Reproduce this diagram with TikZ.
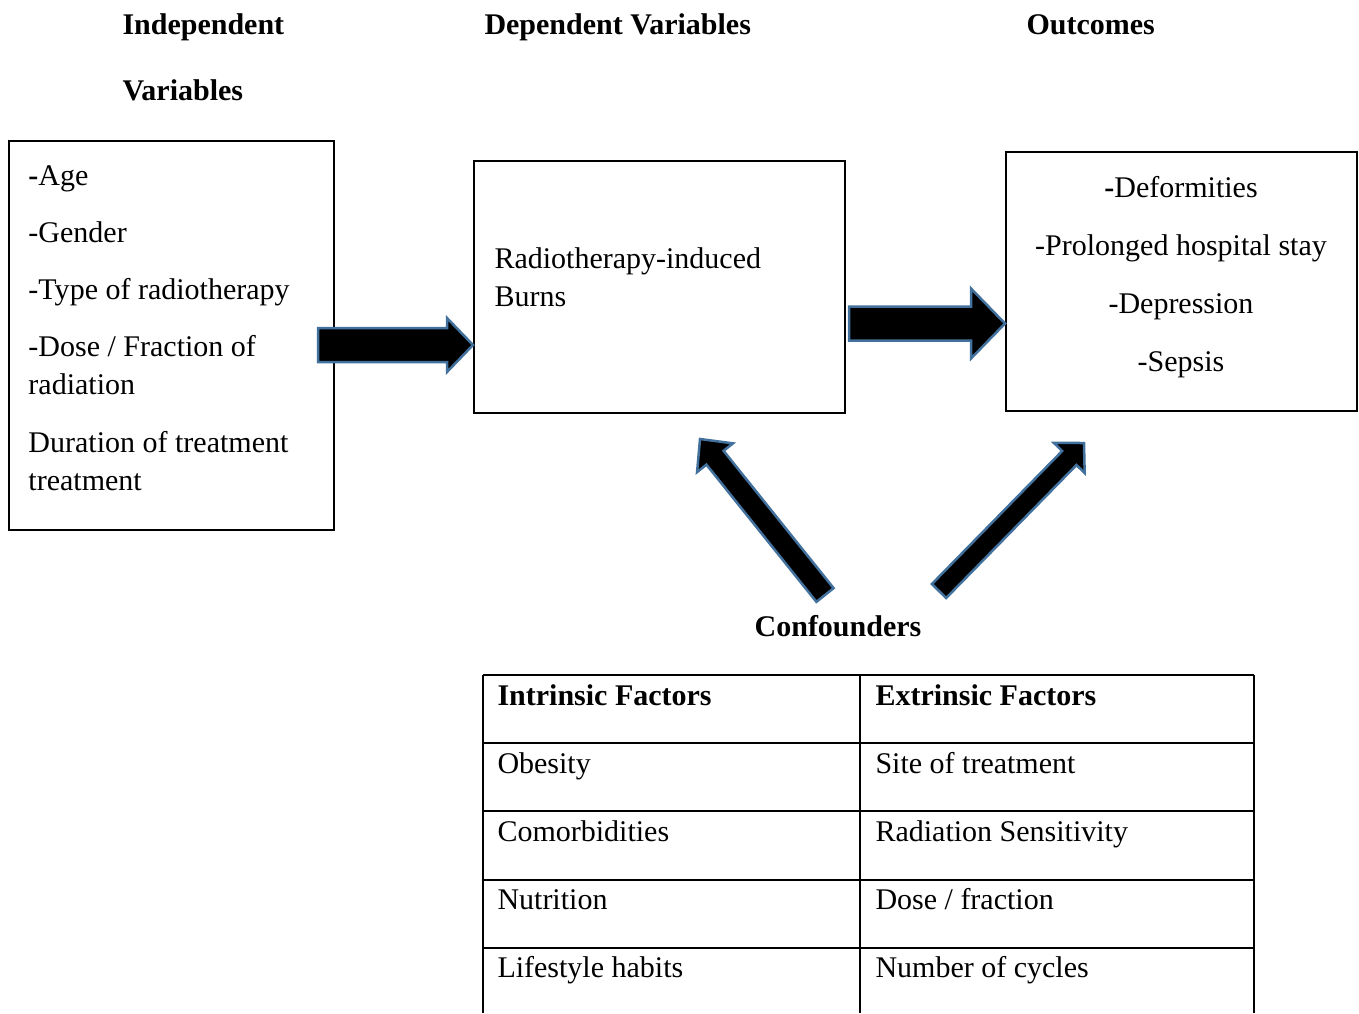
\documentclass[tikz,border=0pt]{standalone}
\usepackage{fontspec}
\setmainfont{Liberation Serif}
\usetikzlibrary{calc,positioning}
\definecolor{arrowblue}{RGB}{65,113,156}
\tikzset{
  box/.style={draw,line width=0.8pt,inner sep=0pt},
  txt/.style={font=\fontsize{12}{15.2}\selectfont,inner sep=0pt},
  head/.style={font=\fontsize{12}{15.2}\selectfont\bfseries,inner sep=0pt,anchor=base west},
  barrow/.style={fill=black,draw=arrowblue,line width=1pt,line join=miter},
  grid/.style={line width=0.7pt}
}
% block arrow: tail, tip, half shaft, half head, head length
\newcommand{\blockarrow}[5]{%
  \path ($(#2)!#5!(#1)$) coordinate (hb);
  \filldraw[barrow] ($(#1)!#3!90:(#2)$) -- ($(hb)!#3!90:(#2)$) -- ($(hb)!#4!90:(#2)$)
    -- (#2) -- ($(hb)!#4!-90:(#2)$) -- ($(hb)!#3!-90:(#2)$) -- ($(#1)!#3!-90:(#2)$) -- cycle;
}

\begin{document}
\begin{tikzpicture}[x=0.4pt,y=-0.4pt]
        \useasboundingbox (0,0) rectangle (1359,1013);
        % titles
        \node[head] (tind) at (122,34) {Independent};
        \node[head] (tvar) at (122,100) {Variables};
        \node[head] (tdep) at (484,34) {Dependent Variables};
        \node[head] (tout) at (1026,34) {Outcomes};

        % boxes
        \node[box,minimum width=130pt,minimum height=155.6pt] (indep) at (171.5,335.5) {};
        \node[box,minimum width=148.4pt,minimum height=100.8pt] (dep) at (659.5,287) {};
        \node[box,minimum width=140.4pt,minimum height=103.6pt] (out) at (1181.5,281.5) {};

        % (base anchor of a multi-line node = last line)
        \node[txt,anchor=base west,align=left] (indeptxt) at (28,490)
            {\textbf{-}Age\\[7.7pt] -Gender\\[7.7pt] -Type of radiotherapy\\[7.7pt]
             -Dose / Fraction of\\ radiation\\[7.7pt] Duration of treatment\\ treatment};
        \node[txt,anchor=base west,align=left] (deptxt) at (494,306)
            {Radiotherapy-induced\\ Burns};
        \node[txt,anchor=base,align=center] (outtxt) at (1181,371)
            {\textbf{-}Deformities\\[8pt] -Prolonged hospital stay\\[8pt] -Depression\\[8pt] -Sepsis};

        % block arrows
        \coordinate (a1s) at (318,345);  \coordinate (a1e) at (473,345);
        \coordinate (a2s) at (849,323.5); \coordinate (a2e) at (1005,323.5);
        \coordinate (a3s) at (825,595);  \coordinate (a3e) at (700,439);
        \coordinate (a4s) at (939,591);  \coordinate (a4e) at (1084,443);
        \blockarrow{a1s}{a1e}{6.8pt}{10.8pt}{10.4pt}
        \blockarrow{a2s}{a2e}{6.8pt}{14pt}{13.6pt}
        \blockarrow{a3s}{a3e}{4.4pt}{9.2pt}{9.6pt}
        \blockarrow{a4s}{a4e}{4pt}{8.6pt}{8.4pt}

        \node[head,anchor=base] (conf) at (838,636) {Confounders};

        % table of confounders
        \foreach \y in {675,743,811,880,948}
            \draw[grid] (483,\y) -- (1254,\y);
        \foreach \x in {483,860,1254}
            \draw[grid] (\x,675) -- (\x,1013);
        \node[head] (intr) at (497,705) {Intrinsic Factors};
        \node[head] (extr) at (875,705) {Extrinsic Factors};
        \node[txt,anchor=base west] (i1) at (497,773) {Obesity};
        \node[txt,anchor=base west] (i2) at (497,841) {Comorbidities};
        \node[txt,anchor=base west] (i3) at (497,909) {Nutrition};
        \node[txt,anchor=base west] (i4) at (497,977) {Lifestyle habits};
        \node[txt,anchor=base west] (e1) at (875,773) {Site of treatment};
        \node[txt,anchor=base west] (e2) at (875,841) {Radiation Sensitivity};
        \node[txt,anchor=base west] (e3) at (875,909) {Dose / fraction};
        \node[txt,anchor=base west] (e4) at (875,977) {Number of cycles};
\end{tikzpicture}
\end{document}
